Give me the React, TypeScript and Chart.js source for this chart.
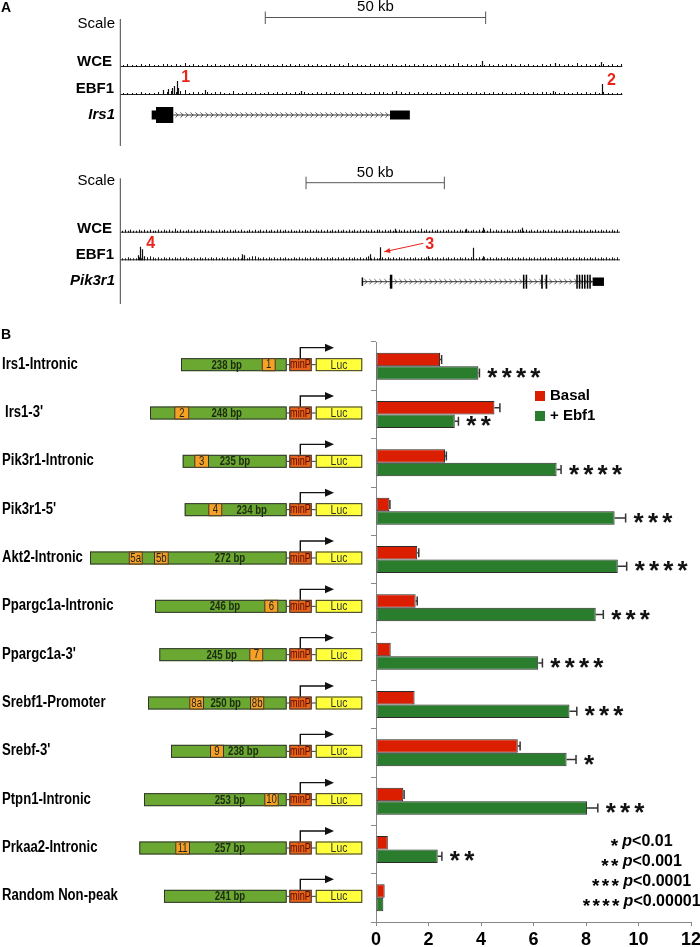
import React, { useEffect, useRef } from 'react';
import { Chart, registerables } from 'chart.js';

Chart.register(...registerables);

const SANS = 'Arial, "Liberation Sans", sans-serif';

// ---------------- Panel B data ----------------
const categories = [
  'Irs1-Intronic', "Irs1-3'", 'Pik3r1-Intronic', "Pik3r1-5'", 'Akt2-Intronic', 'Ppargc1a-Intronic',
  "Ppargc1a-3'", 'Srebf1-Promoter', "Srebf-3'", 'Ptpn1-Intronic', 'Prkaa2-Intronic', 'Random Non-peak',
];
const basal = [2.44, 4.51, 2.63, 0.51, 1.57, 1.51, 0.56, 1.47, 5.40, 1.04, 0.45, 0.33];
const basalErr = [0.06, 0.21, 0.05, 0.02, 0.06, 0.06, 0, 0, 0.09, 0.03, 0, 0];
const ebf1 = [3.90, 3.00, 6.88, 9.09, 9.21, 8.37, 6.18, 7.37, 7.26, 8.04, 2.35, 0.28];
const ebf1Err = [0.04, 0.14, 0.17, 0.42, 0.34, 0.29, 0.16, 0.28, 0.36, 0.41, 0.16, 0];
const significance = [4, 2, 4, 3, 4, 3, 4, 3, 1, 3, 2, 0];
const fragmentBp = [238, 248, 235, 234, 272, 246, 245, 250, 238, 253, 257, 241];
const motifLabels = [['1'], ['2'], ['3'], ['4'], ['5a', '5b'], ['6'], ['7'], ['8a', '8b'], ['9'], ['10'], ['11'], []];
const xTicks = [0, 2, 4, 6, 8, 10, 12];
const seriesNames = ['Basal', '+ Ebf1'];
const pLegendStars = [1, 2, 3, 4];
const pLegendText = ['<0.01', '<0.001', '<0.0001', '<0.00001'];

// ---------------- Panel A data ----------------
// signal heights per 1-kb bin (hand read), plus discrete peaks [kb, height]
const WCE_IRS1 = '121121211221213121121211212122121211212121212112121312112121221121212112121231212112121221212112121212131212121212';
const EBF1_IRS1 = '111121112223234122121221131121211212121212112121212121211222121212121211212121212121212112121212212121121212121111';
const WCE_PEAKS_IRS1: [number, number][] = [[82.0, 5], [109.0, 4], [98.5, 3]];
const EBF1_PEAKS_IRS1: [number, number][] = [[9.6, 4], [10.8, 5], [11.6, 6], [12.2, 8], [12.7, 13], [13.1, 6], [19.2, 4], [41.0, 3], [62.5, 3], [98.0, 3], [109.3, 10]];
const WCE_PIK3R1 = '121211212121121212131211212121212112121212121121212121212212121121212121212121212121212121212212121121212121312121212121212121121212131212121212212121212121211212121212121212121212121212';
const EBF1_PIK3R1 = '112111212232121212121212112121212121212121212123321212121212112121212121212121212121212123121121212121212121212121212121212121221212121212121212121212121212121212121212121212121212';
const WCE_PEAKS_PIK3R1: [number, number][] = [[99.0, 3], [125.0, 3], [131.0, 4], [145.0, 4]];
const EBF1_PEAKS_PIK3R1: [number, number][] = [[6.2, 4], [7.0, 12.5], [7.6, 10], [8.6, 3], [43.8, 5], [44.6, 4], [90.3, 5], [93.8, 12], [111.0, 3], [127.3, 11.6], [131.0, 3]];

type Exon = [number, number, 'cds' | 'utr'];
const IRS1_INTRON: [number, number] = [11.93, 61.1];
const IRS1_EXONS: Exon[] = [[7.03, 8.01, 'utr'], [8.01, 11.93, 'cds'], [61.1, 65.6, 'utr']];
const PIK3R1_INTRON: [number, number] = [87.3, 170.9];
const PIK3R1_EXONS: Exon[] = [
  [87.1, 87.6, 'utr'], [97.3, 98.2, 'cds'], [145.4, 145.95, 'cds'], [146.4, 146.95, 'cds'],
  [152.0, 152.6, 'cds'], [153.6, 154.2, 'cds'], [164.7, 165.2, 'cds'], [165.6, 166.1, 'cds'],
  [166.6, 167.1, 'cds'], [167.5, 168.0, 'cds'], [168.5, 169.0, 'cds'], [169.4, 169.9, 'cds'],
  [170.6, 174.7, 'utr'],
];

const trackData = [
  {
    spanKb: 113.8, scaleKb: [32.8, 82.8], scaleLabel: '50 kb', gene: 'Irs1',
    wce: WCE_IRS1, ebf1: EBF1_IRS1, wcePeaks: WCE_PEAKS_IRS1, ebf1Peaks: EBF1_PEAKS_IRS1,
    intron: IRS1_INTRON, exons: IRS1_EXONS,
    marks: [{ label: '1', kb: 12.7, h: 13, arrowFrom: null as null | number }, { label: '2', kb: 109.3, h: 10, arrowFrom: null }],
  },
  {
    spanKb: 180.5, scaleKb: [67.0, 117.0], scaleLabel: '50 kb', gene: 'Pik3r1',
    wce: WCE_PIK3R1, ebf1: EBF1_PIK3R1, wcePeaks: WCE_PEAKS_PIK3R1, ebf1Peaks: EBF1_PEAKS_PIK3R1,
    intron: PIK3R1_INTRON, exons: PIK3R1_EXONS,
    marks: [{ label: '4', kb: 7.6, h: 12.5, arrowFrom: null as null | number }, { label: '3', kb: 93.8, h: 12, arrowFrom: 109.4 }],
  },
];

// ---------------- layout (geometry only) ----------------
const trackLayouts = [
  { top: 0, height: 150, left: 120.7, right: 622.3, divider: [19, 146], scaleY: 17.5, scaleTextY: 7, scaleWordY: 24,
    wceY: 66, wceLabelY: 62, ebfY: 94, ebfLabelY: 88.5, geneY: 115, geneLabelY: 115, cdsHalf: 8, utrHalf: 4.5, letter: 'A' },
  { top: 150, height: 160, left: 120.7, right: 620, divider: [28.3, 154], scaleY: 32.7, scaleTextY: 23.3, scaleWordY: 31,
    wceY: 81.7, wceLabelY: 79, ebfY: 109.3, ebfLabelY: 105, geneY: 131.7, geneLabelY: 131, cdsHalf: 7, utrHalf: 4.2, letter: '' },
];

const constructLayout = [
  { start: 181, motifs: [[261.7, 275.7]], bpX: 226.7 },
  { start: 150, motifs: [[174.3, 189.3]], bpX: 226.7 },
  { start: 182.7, motifs: [[194.3, 209]], bpX: 235 },
  { start: 184.7, motifs: [[208.3, 222.3]], bpX: 251.7 },
  { start: 90, motifs: [[128.7, 142.7], [154, 168.7]], bpX: 230 },
  { start: 155, motifs: [[264.3, 278.3]], bpX: 225 },
  { start: 159.3, motifs: [[249.3, 263.3]], bpX: 221.7 },
  { start: 148, motifs: [[189.3, 204], [250, 264.3]], bpX: 225.7 },
  { start: 171, motifs: [[210, 224]], bpX: 243.3 },
  { start: 144, motifs: [[264.3, 278.7]], bpX: 230 },
  { start: 139.3, motifs: [[175.3, 190]], bpX: 230 },
  { start: 164, motifs: [] as number[][], bpX: 230 },
];
const labelIndent = [2, 5, 2, 2, 2, 2, 2, 2, 2, 2, 2, 2];

const RED = '#dc1e00';
const GREEN = '#2b7d2e';
const C_GREEN = '#6aa832';
const C_ORANGE = '#f5a124';
const C_MINP = '#e5641a';
const C_LUC = '#ffff3c';
const MARK_RED = '#e8251c';

// horizontally condensed text (no narrow font installed)
function condText(ctx: CanvasRenderingContext2D, text: string, x: number, y: number, font: string, sx: number, align: CanvasTextAlign) {
  ctx.save();
  ctx.font = font;
  ctx.textAlign = align;
  ctx.textBaseline = 'middle';
  ctx.translate(x, y);
  ctx.scale(sx, 1);
  ctx.fillText(text, 0, 0);
  ctx.restore();
}

function trackPlugin(L: any, D: any) {
  return {
    id: 'tracks',
    afterDraw(chart: any) {
      const ctx = chart.ctx as CanvasRenderingContext2D;
      const xs = chart.scales.x;
      const ys = chart.scales.y;
      const X = (kb: number) => xs.getPixelForValue(kb);
      const Y = (v: number) => ys.getPixelForValue(v);
      ctx.save();
      if (L.letter) {
        ctx.fillStyle = '#000';
        ctx.font = `bold 14px ${SANS}`;
        ctx.textAlign = 'left';
        ctx.textBaseline = 'middle';
        ctx.fillText(L.letter, 1, 8);
      }
      ctx.strokeStyle = '#444';
      ctx.lineWidth = 1;
      ctx.beginPath();
      ctx.moveTo(120.3, L.divider[0]);
      ctx.lineTo(120.3, L.divider[1]);
      ctx.stroke();
      ctx.fillStyle = '#000';
      ctx.textAlign = 'right';
      ctx.textBaseline = 'middle';
      ctx.font = `15px ${SANS}`;
      ctx.fillText('Scale', 115, L.scaleWordY);
      ctx.font = `bold 15px ${SANS}`;
      ctx.fillText('WCE', 112, L.wceLabelY);
      ctx.fillText('EBF1', 114, L.ebfLabelY);
      ctx.font = `italic bold 15px ${SANS}`;
      ctx.fillText(D.gene, 115, L.geneLabelY);
      const s0 = X(D.scaleKb[0]);
      const s1 = X(D.scaleKb[1]);
      ctx.strokeStyle = '#555';
      ctx.lineWidth = 1;
      ctx.beginPath();
      ctx.moveTo(s0, Y(L.scaleY));
      ctx.lineTo(s1, Y(L.scaleY));
      ctx.moveTo(s0, Y(L.scaleY - 6));
      ctx.lineTo(s0, Y(L.scaleY + 6.5));
      ctx.moveTo(s1, Y(L.scaleY - 6));
      ctx.lineTo(s1, Y(L.scaleY + 6.5));
      ctx.stroke();
      ctx.fillStyle = '#000';
      ctx.font = `15px ${SANS}`;
      ctx.textAlign = 'center';
      ctx.fillText(D.scaleLabel, (s0 + s1) / 2, Y(L.scaleTextY));
      const drawTrack = (base: number, bins: string, peaks: [number, number][]) => {
        ctx.strokeStyle = '#222';
        ctx.lineWidth = 1;
        ctx.beginPath();
        ctx.moveTo(X(0), Y(base) + 0.5);
        ctx.lineTo(X(D.spanKb), Y(base) + 0.5);
        ctx.stroke();
        ctx.strokeStyle = '#111';
        ctx.beginPath();
        for (let i = 0; i < bins.length && i + 0.5 < D.spanKb; i++) {
          const h = parseInt(bins[i], 10);
          if (!h) continue;
          const px = Math.round(X(i + 0.5)) + 0.5;
          ctx.moveTo(px, Y(base) + 1);
          ctx.lineTo(px, Y(base - h));
        }
        ctx.stroke();
        ctx.lineWidth = 1.2;
        ctx.beginPath();
        peaks.forEach(([kb, h]) => {
          const px = Math.round(X(kb)) + 0.5;
          ctx.moveTo(px, Y(base) + 1);
          ctx.lineTo(px, Y(base - h));
        });
        ctx.stroke();
      };
      drawTrack(L.wceY, D.wce, D.wcePeaks);
      drawTrack(L.ebfY, D.ebf1, D.ebf1Peaks);
      D.marks.forEach((m: any) => {
        ctx.fillStyle = MARK_RED;
        ctx.font = `bold 16px ${SANS}`;
        ctx.textAlign = 'left';
        ctx.textBaseline = 'middle';
        const topY = Y(L.ebfY - m.h);
        if (m.arrowFrom == null) {
          ctx.fillText(m.label, X(m.kb) + 4.5, topY - 3);
        } else {
          const ax = X(m.arrowFrom);
          const ay = topY - 4;
          const bx = X(m.kb) + 4;
          const by = Y(L.ebfY) - 7.5;
          ctx.fillText(m.label, ax + 2, ay + 1);
          ctx.strokeStyle = MARK_RED;
          ctx.lineWidth = 1;
          ctx.beginPath();
          ctx.moveTo(ax, ay);
          ctx.lineTo(bx, by);
          ctx.stroke();
          const ang = Math.atan2(by - ay, bx - ax);
          ctx.beginPath();
          ctx.moveTo(bx, by);
          ctx.lineTo(bx - 6 * Math.cos(ang) + 2.5 * Math.sin(ang), by - 6 * Math.sin(ang) - 2.5 * Math.cos(ang));
          ctx.lineTo(bx - 6 * Math.cos(ang) - 2.5 * Math.sin(ang), by - 6 * Math.sin(ang) + 2.5 * Math.cos(ang));
          ctx.closePath();
          ctx.fill();
        }
      });
      const gy = Y(L.geneY);
      const i0 = X(D.intron[0]);
      const i1 = X(D.intron[1]);
      ctx.strokeStyle = '#333';
      ctx.lineWidth = 1;
      ctx.beginPath();
      ctx.moveTo(i0, gy);
      ctx.lineTo(i1, gy);
      ctx.stroke();
      ctx.lineWidth = 0.8;
      ctx.beginPath();
      for (let cx = i0 + 4; cx < i1 - 2; cx += 5) {
        ctx.moveTo(cx - 1.8, gy - 2.6);
        ctx.lineTo(cx + 0.8, gy);
        ctx.lineTo(cx - 1.8, gy + 2.6);
      }
      ctx.stroke();
      ctx.fillStyle = '#000';
      D.exons.forEach(([a, b, kind]: Exon) => {
        const half = kind === 'cds' ? L.cdsHalf : L.utrHalf;
        const xa = X(a);
        const xb = Math.max(X(b), xa + 1.5);
        ctx.fillRect(xa, gy - half, xb - xa, half * 2);
      });
      ctx.restore();
    },
  };
}

function TrackBlock({ idx }: { idx: number }) {
  const ref = useRef<HTMLCanvasElement>(null);
  const L = trackLayouts[idx];
  const D = trackData[idx];
  useEffect(() => {
    const chart = new Chart(ref.current!, {
      type: 'scatter',
      data: { datasets: [] },
      options: {
        animation: false,
        responsive: false,
        devicePixelRatio: 1,
        events: [],
        layout: { padding: { left: L.left, right: 700 - L.right, top: 0, bottom: 0 } },
        plugins: { legend: { display: false }, tooltip: { enabled: false } },
        scales: {
          x: { type: 'linear', display: false, min: 0, max: D.spanKb },
          y: { type: 'linear', display: false, min: 0, max: L.height, reverse: true },
        },
      },
      plugins: [trackPlugin(L, D)],
    } as any);
    return () => chart.destroy();
  }, []);
  return (
    <canvas ref={ref} width={700} height={L.height} style={{ position: 'absolute', left: 0, top: L.top, width: 700, height: L.height }} />
  );
}

function drawStar(ctx: CanvasRenderingContext2D, cx: number, cy: number, size: number) {
  ctx.font = `bold ${size}px ${SANS}`;
  ctx.textAlign = 'center';
  ctx.textBaseline = 'alphabetic';
  const m = ctx.measureText('*');
  ctx.fillText('*', cx, cy + (m.actualBoundingBoxAscent - m.actualBoundingBoxDescent) / 2);
}

const panelBPlugin = {
  id: 'panelB',
  afterDraw(chart: any) {
    const ctx = chart.ctx as CanvasRenderingContext2D;
    const xs = chart.scales.x;
    const ys = chart.scales.y;
    ctx.save();
    ctx.fillStyle = '#000';
    ctx.font = `bold 14px ${SANS}`;
    ctx.textAlign = 'left';
    ctx.textBaseline = 'middle';
    ctx.fillText('B', 1, 25);

    // error bars
    const series = [basal, ebf1];
    [basalErr, ebf1Err].forEach((errs, di) => {
      const meta = chart.getDatasetMeta(di);
      meta.data.forEach((bar: any, i: number) => {
        const e = errs[i];
        if (!e) return;
        const x0 = xs.getPixelForValue(series[di][i]);
        const x1 = xs.getPixelForValue(series[di][i] + e);
        ctx.strokeStyle = '#333';
        ctx.lineWidth = 1.5;
        ctx.beginPath();
        ctx.moveTo(x0, bar.y);
        ctx.lineTo(x1, bar.y);
        ctx.moveTo(x1, bar.y - 4.5);
        ctx.lineTo(x1, bar.y + 4.5);
        ctx.stroke();
      });
    });

    // significance stars
    const gmeta = chart.getDatasetMeta(1);
    ctx.fillStyle = '#111';
    significance.forEach((n, i) => {
      const bar = gmeta.data[i];
      const xe = xs.getPixelForValue(ebf1[i] + ebf1Err[i]);
      for (let k = 0; k < n; k++) drawStar(ctx, xe + 13 + k * 14.3, bar.y, 26);
    });

    // category labels and constructs
    categories.forEach((name, i) => {
      const cy = ys.getPixelForValue(i);
      ctx.fillStyle = '#000';
      condText(ctx, name, labelIndent[i], cy - 2, `bold 16px ${SANS}`, 0.82, 'left');

      const L = constructLayout[i];
      const by = cy - 1.5;
      const top = by - 6.5;
      const h = 13;
      const greenEnd = 286.7;
      ctx.strokeStyle = '#333';
      ctx.lineWidth = 1;
      ctx.beginPath();
      ctx.moveTo(greenEnd, by);
      ctx.lineTo(316, by);
      ctx.stroke();
      ctx.fillStyle = C_GREEN;
      ctx.fillRect(L.start, top, greenEnd - L.start, h);
      ctx.strokeRect(L.start + 0.5, top + 0.5, greenEnd - L.start - 1, h - 1);
      L.motifs.forEach((mm, k) => {
        ctx.fillStyle = C_ORANGE;
        ctx.fillRect(mm[0], top, mm[1] - mm[0], h);
        ctx.strokeRect(mm[0] + 0.5, top + 0.5, mm[1] - mm[0] - 1, h - 1);
        ctx.fillStyle = '#222';
        condText(ctx, motifLabels[i][k], (mm[0] + mm[1]) / 2, by + 0.5, `12px ${SANS}`, 0.8, 'center');
      });
      ctx.fillStyle = '#1d2a10';
      condText(ctx, `${fragmentBp[i]} bp`, L.bpX, by + 0.5, `bold 13px ${SANS}`, 0.74, 'center');
      ctx.fillStyle = C_MINP;
      ctx.fillRect(289.3, top, 22.4, h);
      ctx.strokeRect(289.8, top + 0.5, 21.4, h - 1);
      ctx.fillStyle = '#5a0800';
      condText(ctx, 'minP', 300.5, by + 0.5, `12px ${SANS}`, 0.76, 'center');
      ctx.fillStyle = C_LUC;
      ctx.fillRect(315.7, top, 46.6, h);
      ctx.strokeRect(316.2, top + 0.5, 45.6, h - 1);
      ctx.fillStyle = '#333';
      condText(ctx, 'Luc', 339, by + 0.5, `13px ${SANS}`, 0.8, 'center');
      ctx.strokeStyle = '#111';
      ctx.lineWidth = 1.4;
      ctx.beginPath();
      ctx.moveTo(300.3, top);
      ctx.lineTo(300.3, top - 10.5);
      ctx.lineTo(326, top - 10.5);
      ctx.stroke();
      ctx.fillStyle = '#111';
      ctx.beginPath();
      ctx.moveTo(334, top - 10.5);
      ctx.lineTo(325, top - 14.5);
      ctx.lineTo(325, top - 6.5);
      ctx.closePath();
      ctx.fill();
    });

    // series legend
    const legendColors = [RED, GREEN];
    seriesNames.forEach((nm, k) => {
      const ly = 86 + k * 20;
      ctx.fillStyle = legendColors[k];
      ctx.fillRect(535, ly - 5, 10, 10);
      ctx.fillStyle = '#000';
      ctx.font = `bold 15px ${SANS}`;
      ctx.textAlign = 'left';
      ctx.textBaseline = 'middle';
      ctx.fillText(nm, 550, ly);
    });

    // p-value legend
    pLegendStars.forEach((n, k) => {
      const ly = 532 + k * 20;
      ctx.font = `italic bold 16px ${SANS}`;
      const wp = ctx.measureText('p').width;
      ctx.font = `bold 16px ${SANS}`;
      const wt = ctx.measureText(pLegendText[k]).width;
      const ws = n * 9.8;
      const total = ws + 3 + wp + wt;
      let x = 641 - total / 2;
      ctx.fillStyle = '#000';
      for (let s = 0; s < n; s++) drawStar(ctx, x + 4.9 + s * 9.8, ly, 19);
      x += ws + 3;
      ctx.textAlign = 'left';
      ctx.textBaseline = 'middle';
      ctx.font = `italic bold 16px ${SANS}`;
      ctx.fillText('p', x, ly);
      x += wp;
      ctx.font = `bold 16px ${SANS}`;
      ctx.fillText(pLegendText[k], x, ly);
    });
    ctx.restore();
  },
};

function BarPanel() {
  const ref = useRef<HTMLCanvasElement>(null);
  useEffect(() => {
    const chart = new Chart(ref.current!, {
      type: 'bar',
      data: {
        labels: categories,
        datasets: [
          { label: seriesNames[0], data: basal, backgroundColor: RED, borderColor: '#2a2a2a', borderWidth: 1, borderSkipped: false },
          { label: seriesNames[1], data: ebf1, backgroundColor: GREEN, borderColor: '#2a2a2a', borderWidth: 1, borderSkipped: false },
        ],
      },
      options: {
        indexAxis: 'y',
        animation: false,
        responsive: false,
        devicePixelRatio: 1,
        events: [],
        layout: { padding: { left: 370, right: 9, top: 32, bottom: 0 } },
        datasets: { bar: { barPercentage: 1, categoryPercentage: 0.56 } },
        plugins: { legend: { display: false }, tooltip: { enabled: false } },
        scales: {
          x: {
            type: 'linear',
            position: 'bottom',
            min: 0,
            max: 12,
            afterBuildTicks: (s: any) => { s.ticks = xTicks.map((v) => ({ value: v })); },
            afterFit: (s: any) => { s.height = 25; s.paddingLeft = 0; s.paddingRight = 0; },
            ticks: { font: { family: SANS, size: 18, weight: 'bold' }, color: '#000', padding: 3, maxRotation: 0 },
            grid: { drawOnChartArea: false, tickLength: 4, color: '#888' },
            border: { color: '#888' },
          },
          y: {
            type: 'category',
            afterFit: (s: any) => { s.width = 6; },
            ticks: { display: false },
            grid: { offset: true, drawOnChartArea: false, tickLength: 5, color: '#888' },
            border: { color: '#888' },
          },
        },
      },
      plugins: [panelBPlugin],
    } as any);
    return () => chart.destroy();
  }, []);
  return <canvas ref={ref} width={700} height={637} style={{ position: 'absolute', left: 0, top: 310, width: 700, height: 637 }} />;
}

export default function App() {
  return (
    <div style={{ position: 'absolute', left: 0, top: 0, width: 700, height: 947, overflow: 'hidden', background: '#fff' }}>
      <TrackBlock idx={0} />
      <TrackBlock idx={1} />
      <BarPanel />
    </div>
  );
}
